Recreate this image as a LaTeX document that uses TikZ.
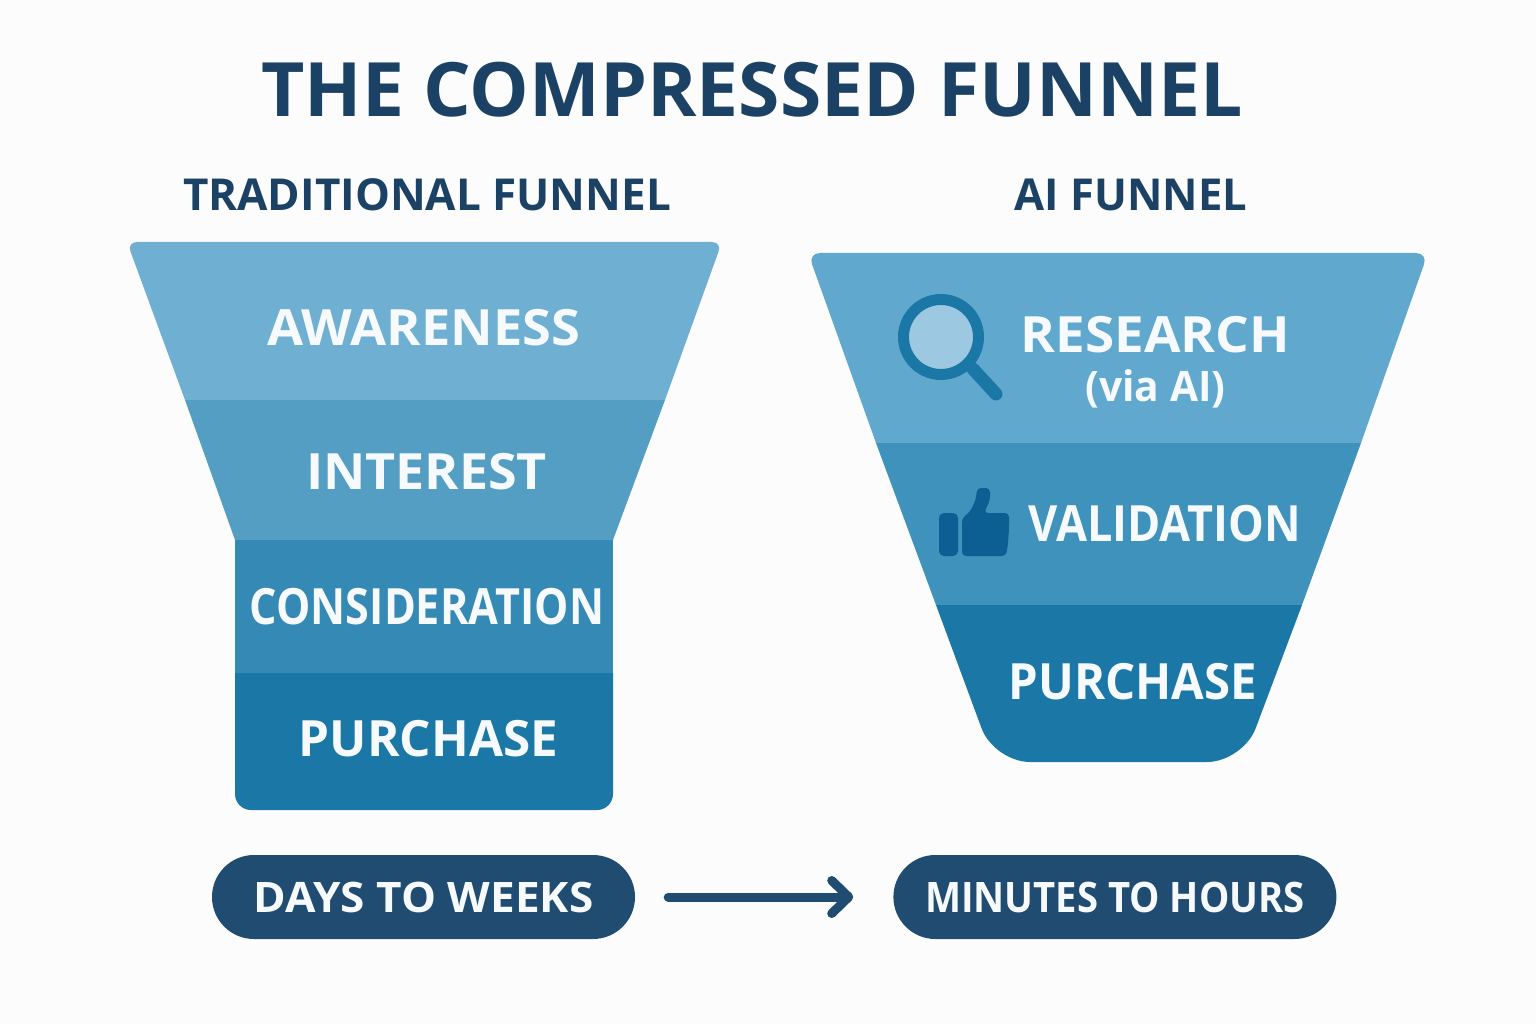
\documentclass[tikz,border=0pt]{standalone}
\usepackage{fontspec}
\usepackage{xcolor}
\usepackage{tikz}
\usetikzlibrary{arrows.meta,positioning}
\setmainfont{Open Sans}
\newcommand{\fitfont}[2]{\fontsize{#1}{#1}\selectfont\bfseries\addfontfeature{FakeStretch=#2}}
\definecolor{funnelnavy}{HTML}{1B4265}
\definecolor{pillnavy}{HTML}{1F4C70}
\definecolor{tradone}{HTML}{6FAFD2}
\definecolor{tradtwo}{HTML}{559EC3}
\definecolor{tradthree}{HTML}{358AB5}
\definecolor{stagedeep}{HTML}{1B78A6}
\definecolor{aione}{HTML}{61A8CE}
\definecolor{aitwo}{HTML}{3F92BB}
\definecolor{lensblue}{HTML}{9CC8E2}
\definecolor{thumbblue}{HTML}{0B5F92}
\definecolor{labelwhite}{HTML}{F6FAFC}

\begin{document}
\begin{tikzpicture}[x=1pt, y=-1pt, >=Latex,
  stagelabel/.style={inner sep=0pt, text=labelwhite, text height=36pt, text depth=0pt},
  headlabel/.style={inner sep=0pt, text=funnelnavy, text height=31pt, text depth=0pt},
  timepill/.style={fill=pillnavy, text=labelwhite, rounded corners=42pt, minimum height=84pt, inner sep=0pt, text height=30pt, text depth=0pt}]
  \useasboundingbox (0,0) rectangle (1536,1024);
  \fill[white!99!black] (0,0) rectangle (1536,1024);

  % left funnel
  \fill[tradone] (185,400) [rounded corners=10pt] -- (127,242) -- (722,242) [sharp corners] -- (665,400) -- cycle;
  \fill[tradtwo] (185,400) -- (665,400) -- (613,540) -- (235,540) -- cycle;
  \fill[tradthree] (235,540) rectangle (613,673);
  \fill[stagedeep] (235,673) -- (613,673) [rounded corners=16pt] -- (613,810) -- (235,810) [sharp corners] -- cycle;

  % right funnel
  \fill[aione] (876,443) [rounded corners=12pt] -- (808,253) -- (1428,253) [sharp corners] -- (1361,443) -- cycle;
  \fill[aitwo] (876,443) -- (1361,443) -- (1302,605) -- (936,605) -- cycle;
  \fill[stagedeep] (936,605) -- (1302,605) [rounded corners=36pt] -- (1243,762) -- (994,762) [sharp corners] -- cycle;

  % magnifier
  \draw[stagedeep, line width=13pt, line cap=round] (973,369) -- (996,394);
  \draw[stagedeep, line width=11pt, fill=lensblue] (941,337) circle (37.5pt);

  % thumb
  \fill[thumbblue, rounded corners=5pt] (939,513) rectangle (958,556);
  \fill[thumbblue, rounded corners=4pt] (962,518) -- (970,512) -- (976,499) -- (977,488) -- (990,488) -- (990,500) -- (984,513) -- (1009,513) -- (1009,529) -- (1008,544) -- (1006,556) -- (962,556) -- cycle;

  \node[inner sep=0pt, text=funnelnavy, text height=54pt, text depth=0pt, font=\fitfont{75}{1.0}] (title) at (752,90) {THE COMPRESSED FUNNEL};
  \node[headlabel, font=\fitfont{44}{1.0}] (tradhead) at (427,195) {TRADITIONAL FUNNEL};
  \node[headlabel, font=\fitfont{44}{0.99}] (aihead) at (1131,195) {AI FUNNEL};

  \node[stagelabel, font=\fitfont{50}{1.047}] (awareness) at (424,327) {AWARENESS};
  \node[stagelabel, font=\fitfont{50}{1.04}, below=108pt of awareness, xshift=2.5pt] (interest) {INTEREST};
  \node[stagelabel, font=\fitfont{50}{0.863}, below=99pt of interest, xshift=0.5pt] (consideration) {CONSIDERATION};
  \node[stagelabel, font=\fitfont{50}{0.988}, below=95pt of consideration, xshift=1.5pt] (purchase) {PURCHASE};

  \node[stagelabel, font=\fitfont{50}{1.06}] (research) at (1155.5,334) {RESEARCH};
  \node[inner sep=0pt, text=labelwhite, font=\fitfont{42}{0.97}, below=17pt of research] (viaai) {(via AI)};
  \node[stagelabel, font=\fitfont{50}{0.90}] (validation) at (1165,523) {VALIDATION};
  \node[stagelabel, font=\fitfont{50}{0.946}, below=122pt of validation, xshift=-32pt] (aipurchase) {PURCHASE};

  \node[timepill, minimum width=423pt, font=\fitfont{42}{1.05}] (days) at (423.5,897) {DAYS TO WEEKS};
  \node[timepill, minimum width=443pt, font=\fitfont{42}{0.91}, right=258pt of days] (hours) {MINUTES TO HOURS};

  \draw[-{Straight Barb[length=17pt,width=33pt,line cap=round,round]}, pillnavy, line width=9pt, line cap=round, shorten <=33pt, shorten >=40pt] (days) -- (hours);
\end{tikzpicture}
\end{document}
